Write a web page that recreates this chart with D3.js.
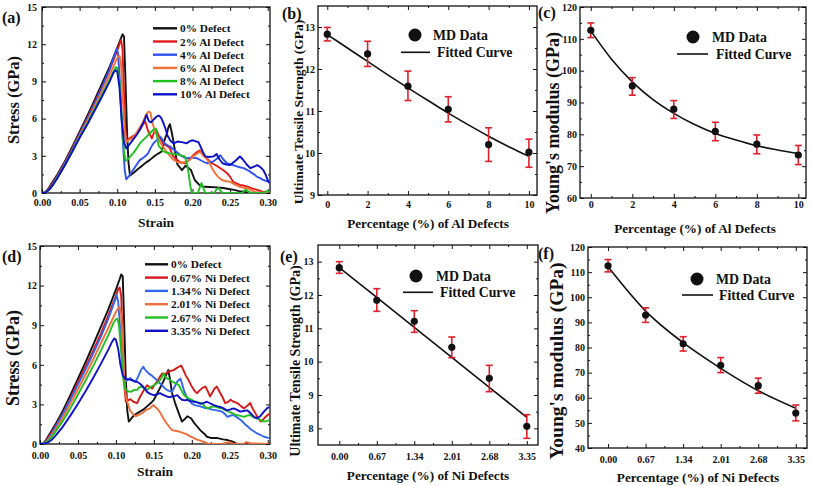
<!DOCTYPE html>
<html><head><meta charset="utf-8">
<script src="https://cdn.jsdelivr.net/npm/d3@7"></script>
<style>
body{margin:0;background:#fff}
svg{display:block}
text{font-family:"Liberation Serif","Times New Roman",serif;font-weight:bold;fill:#111}
.tk text{font-size:10px}
</style>
</head><body><svg id="c" width="813" height="486"></svg>
<script>
// ---------- Stress-strain, Al defects (strain, stress GPa) ----------
const al0=[[0,0],[0.004,0.05],[0.008,0.3],[0.012,0.7],[0.02,1.45],[0.03,2.5],[0.04,3.7],[0.05,4.95],[0.06,6.2],[0.07,7.5],[0.08,8.85],[0.09,10.2],[0.1,11.7],[0.105,12.5],[0.107,12.8],[0.109,12.6],[0.111,9],[0.113,5],[0.115,2.4],[0.117,1.4],[0.121,1.6],[0.126,1.85],[0.133,2.2],[0.138,2.45],[0.143,2.65],[0.15,3.0],[0.155,3.2],[0.159,3.35],[0.163,4.3],[0.166,4.8],[0.168,5.3],[0.17,5.55],[0.172,5.0],[0.174,4.4],[0.177,3.3],[0.18,2.3],[0.186,1.85],[0.191,2.2],[0.195,2.0],[0.198,1.85],[0.203,1.05],[0.21,0.6],[0.216,0.5],[0.223,0.48],[0.232,0.45],[0.241,0.4],[0.25,0.3],[0.255,0.25],[0.262,0.15],[0.268,0.1],[0.275,0],[0.302,0]];
const al2=[[0,0],[0.004,0.03],[0.008,0.25],[0.012,0.6],[0.02,1.35],[0.03,2.4],[0.04,3.55],[0.05,4.8],[0.06,6.0],[0.07,7.3],[0.08,8.6],[0.09,9.95],[0.1,11.5],[0.104,12.2],[0.105,12.35],[0.107,11.6],[0.109,8],[0.111,5],[0.112,4.2],[0.116,4.4],[0.121,4.6],[0.126,4.8],[0.13,5.1],[0.134,5.5],[0.137,5.8],[0.141,5.0],[0.146,4.4],[0.149,4.9],[0.152,5.1],[0.156,4.5],[0.161,4.0],[0.166,3.8],[0.17,3.6],[0.174,3.0],[0.177,2.8],[0.183,2.5],[0.19,2.4],[0.196,2.7],[0.201,3.05],[0.206,3.3],[0.21,3.45],[0.214,3.1],[0.217,2.9],[0.222,2.6],[0.226,2.4],[0.232,2.2],[0.237,2.0],[0.242,1.8],[0.246,1.6],[0.25,1.3],[0.254,0.9],[0.259,0.75],[0.263,0.65],[0.268,0.6],[0.274,0.5],[0.28,0.35],[0.286,0.25],[0.292,0.12],[0.297,0.05],[0.302,0.1]];
const al4=[[0,0],[0.005,0.05],[0.01,0.35],[0.015,0.8],[0.02,1.3],[0.03,2.35],[0.04,3.5],[0.05,4.75],[0.06,5.95],[0.07,7.2],[0.08,8.55],[0.09,10.0],[0.095,10.9],[0.099,11.6],[0.101,11.3],[0.104,8.5],[0.107,4.5],[0.11,1.8],[0.112,1.1],[0.116,1.4],[0.121,1.85],[0.126,2.3],[0.13,2.65],[0.136,2.9],[0.141,3.2],[0.145,3.7],[0.148,4.0],[0.153,4.3],[0.157,4.55],[0.16,4.3],[0.163,4.0],[0.167,3.85],[0.17,3.75],[0.175,3.5],[0.179,3.3],[0.185,3.0],[0.192,2.8],[0.199,2.85],[0.206,2.8],[0.212,2.6],[0.219,2.4],[0.224,2.5],[0.228,2.55],[0.233,2.8],[0.237,3.05],[0.241,2.7],[0.246,2.4],[0.254,2.25],[0.261,2.1],[0.268,2.0],[0.273,1.85],[0.277,1.7],[0.282,1.5],[0.286,1.3],[0.29,1.2],[0.294,1.05],[0.302,0.9]];
const al6=[[0,0],[0.005,0.05],[0.01,0.3],[0.015,0.7],[0.02,1.2],[0.03,2.25],[0.04,3.4],[0.05,4.6],[0.06,5.8],[0.07,7.0],[0.08,8.25],[0.09,9.55],[0.097,10.5],[0.101,11.0],[0.103,11.05],[0.105,10.4],[0.108,7],[0.11,4.8],[0.112,4.1],[0.116,4.3],[0.12,4.4],[0.125,4.8],[0.13,5.3],[0.134,5.7],[0.138,6.3],[0.141,6.55],[0.144,6.5],[0.147,5.6],[0.15,5.0],[0.153,4.6],[0.157,4.1],[0.161,3.7],[0.166,3.3],[0.17,3.0],[0.174,2.7],[0.18,2.5],[0.186,2.4],[0.192,2.55],[0.197,2.7],[0.202,3.0],[0.207,3.2],[0.21,3.35],[0.214,3.0],[0.218,2.8],[0.222,2.5],[0.226,2.0],[0.23,1.6],[0.234,1.3],[0.239,1.05],[0.245,0.95],[0.25,0.9],[0.256,0.7],[0.263,0.5],[0.27,0.4],[0.275,0.35],[0.28,0.15],[0.286,0.05],[0.302,0.05]];
const al8=[[0,0],[0.005,0.05],[0.01,0.3],[0.015,0.7],[0.02,1.2],[0.03,2.2],[0.04,3.35],[0.05,4.5],[0.06,5.6],[0.07,6.8],[0.08,7.95],[0.09,9.15],[0.095,9.8],[0.098,10.15],[0.1,10.1],[0.103,9.0],[0.106,6],[0.109,3.4],[0.111,2.6],[0.114,2.7],[0.118,3.0],[0.121,3.2],[0.126,3.6],[0.13,4.0],[0.135,4.3],[0.139,4.55],[0.143,4.8],[0.148,5.1],[0.151,5.2],[0.153,4.6],[0.155,3.8],[0.158,3.6],[0.161,3.35],[0.166,3.25],[0.17,3.2],[0.176,3.15],[0.183,3.05],[0.19,2.95],[0.193,2.3],[0.195,1.5],[0.197,0.6],[0.199,0],[0.207,0],[0.21,0.5],[0.212,0.8],[0.215,0.3],[0.217,0],[0.229,0],[0.232,0.3],[0.235,0.4],[0.238,0.1],[0.241,0],[0.266,0],[0.27,0.25],[0.273,0.2],[0.276,0],[0.295,0],[0.298,0.15],[0.302,0.1]];
const al10=[[0,0],[0.005,0.05],[0.01,0.3],[0.015,0.7],[0.02,1.15],[0.03,2.2],[0.04,3.3],[0.05,4.45],[0.06,5.5],[0.07,6.65],[0.08,7.8],[0.09,9.0],[0.095,9.7],[0.098,9.9],[0.1,9.8],[0.103,8.5],[0.106,5.8],[0.109,4.1],[0.112,3.6],[0.116,3.9],[0.121,4.3],[0.126,4.7],[0.13,5.1],[0.134,5.6],[0.137,6.0],[0.139,6.3],[0.142,5.8],[0.145,5.7],[0.148,5.9],[0.152,6.15],[0.155,6.25],[0.158,6.1],[0.161,5.7],[0.164,5.2],[0.167,4.6],[0.171,4.2],[0.175,4.0],[0.18,4.15],[0.186,4.1],[0.192,4.0],[0.197,4.2],[0.201,4.25],[0.205,4.15],[0.208,4.1],[0.211,3.7],[0.214,3.3],[0.217,2.95],[0.222,2.9],[0.228,2.95],[0.232,3.15],[0.236,2.7],[0.24,2.4],[0.245,2.3],[0.25,2.25],[0.255,2.5],[0.259,2.7],[0.263,2.95],[0.267,2.7],[0.272,2.3],[0.277,2.0],[0.281,2.1],[0.286,2.25],[0.29,2.1],[0.294,1.85],[0.297,1.5],[0.3,1.05],[0.302,0.8]];
const alNames=["0% Defect","2% Al Defect","4% Al Defect","6% Al Defect","8% Al Defect","10% Al Defect"];
const alColors=["#111111","#e21a1a","#3050f0","#f07238","#1ec21e","#0a10c8"];

// ---------- Stress-strain, Ni defects ----------
const ni0=[[0,0],[0.004,0.05],[0.008,0.3],[0.012,0.7],[0.02,1.45],[0.03,2.5],[0.04,3.7],[0.05,4.95],[0.06,6.2],[0.07,7.5],[0.08,8.85],[0.09,10.2],[0.1,11.7],[0.105,12.5],[0.107,12.85],[0.109,12.7],[0.111,9],[0.113,5],[0.115,2.5],[0.117,1.7],[0.12,1.9],[0.124,2.2],[0.13,2.4],[0.136,2.6],[0.141,2.85],[0.146,3.1],[0.15,3.35],[0.155,3.9],[0.159,4.35],[0.163,4.8],[0.166,5.2],[0.169,5.6],[0.171,5.0],[0.174,3.85],[0.178,3.1],[0.183,2.3],[0.187,1.7],[0.191,1.9],[0.194,2.1],[0.199,1.95],[0.203,1.6],[0.206,1.4],[0.211,1.05],[0.216,0.8],[0.22,0.55],[0.226,0.45],[0.234,0.45],[0.241,0.35],[0.247,0.3],[0.253,0.2],[0.258,0.05],[0.262,0],[0.302,0]];
const ni067=[[0,0],[0.004,0.03],[0.008,0.25],[0.012,0.6],[0.02,1.3],[0.03,2.3],[0.04,3.45],[0.05,4.7],[0.06,5.85],[0.07,7.05],[0.08,8.35],[0.09,9.75],[0.1,11.2],[0.103,11.75],[0.105,11.85],[0.107,11.2],[0.109,7.5],[0.111,4.5],[0.113,3.2],[0.116,3.3],[0.119,3.4],[0.123,3.2],[0.128,3.1],[0.132,3.6],[0.137,4.1],[0.141,4.45],[0.145,4.3],[0.148,4.2],[0.151,4.5],[0.154,4.7],[0.158,5.1],[0.161,5.35],[0.165,5.3],[0.17,5.5],[0.176,5.6],[0.18,5.75],[0.183,5.85],[0.186,5.95],[0.189,5.6],[0.192,5.2],[0.196,4.8],[0.2,4.35],[0.204,4.0],[0.207,3.85],[0.211,4.1],[0.214,4.25],[0.218,4.35],[0.221,4.0],[0.224,3.6],[0.227,3.9],[0.23,4.2],[0.233,4.35],[0.237,3.9],[0.24,3.6],[0.244,3.1],[0.248,3.2],[0.251,3.35],[0.255,3.2],[0.26,3.1],[0.265,2.85],[0.269,2.7],[0.273,2.9],[0.277,3.1],[0.28,2.7],[0.284,2.3],[0.288,1.9],[0.291,1.7],[0.294,1.85],[0.297,2.05],[0.3,2.2],[0.302,2.3]];
const ni134=[[0,0],[0.005,0.05],[0.01,0.3],[0.015,0.75],[0.02,1.25],[0.03,2.25],[0.04,3.35],[0.05,4.5],[0.06,5.65],[0.07,6.85],[0.08,8.1],[0.09,9.5],[0.097,10.6],[0.1,11.1],[0.101,11.25],[0.103,10.8],[0.106,8.5],[0.109,5.5],[0.112,4.7],[0.116,4.9],[0.119,5.0],[0.122,4.8],[0.126,4.7],[0.13,5.2],[0.133,5.6],[0.136,5.85],[0.139,5.6],[0.143,5.35],[0.147,5.2],[0.152,4.95],[0.156,4.7],[0.161,4.45],[0.164,4.25],[0.167,4.1],[0.171,4.0],[0.174,3.95],[0.177,4.3],[0.181,4.75],[0.185,4.95],[0.187,4.6],[0.19,4.0],[0.193,3.6],[0.196,3.35],[0.2,3.05],[0.204,2.95],[0.211,2.85],[0.216,2.75],[0.221,2.7],[0.227,2.6],[0.233,2.55],[0.24,2.45],[0.244,2.25],[0.247,2.05],[0.251,2.15],[0.255,2.2],[0.26,2.0],[0.265,1.8],[0.27,1.5],[0.274,1.3],[0.278,1.1],[0.282,0.95],[0.286,0.8],[0.29,0.7],[0.295,0.55],[0.302,0.45]];
const ni201=[[0,0],[0.005,0.05],[0.01,0.25],[0.015,0.6],[0.02,1.05],[0.03,2.0],[0.04,3.05],[0.05,4.15],[0.06,5.25],[0.07,6.4],[0.08,7.6],[0.09,8.8],[0.1,10.0],[0.103,10.3],[0.105,10.35],[0.107,9.8],[0.109,7.5],[0.111,5],[0.113,3.6],[0.116,3.0],[0.119,2.5],[0.122,2.3],[0.126,2.1],[0.13,2.2],[0.135,2.35],[0.14,2.6],[0.145,2.7],[0.149,2.95],[0.152,2.8],[0.155,2.65],[0.158,2.4],[0.161,2.1],[0.164,1.8],[0.167,1.55],[0.171,1.25],[0.174,1.05],[0.178,1.0],[0.183,0.95],[0.188,0.85],[0.193,0.75],[0.197,0.6],[0.201,0.5],[0.206,0.35],[0.211,0.25],[0.216,0.15],[0.221,0.05],[0.225,0],[0.24,0],[0.245,0.1],[0.25,0.15],[0.254,0],[0.268,0],[0.272,0.15],[0.276,0.05],[0.302,0]];
const ni267=[[0,0],[0.005,0.05],[0.01,0.2],[0.015,0.5],[0.02,0.9],[0.03,1.75],[0.04,2.7],[0.05,3.75],[0.06,4.8],[0.07,5.9],[0.08,7.05],[0.09,8.25],[0.097,9.2],[0.1,9.45],[0.102,9.5],[0.104,9.0],[0.107,7],[0.11,4.8],[0.112,4.2],[0.116,4.0],[0.12,3.95],[0.124,4.1],[0.128,4.1],[0.131,4.3],[0.134,4.35],[0.138,4.2],[0.141,4.1],[0.145,4.3],[0.15,4.45],[0.154,4.6],[0.157,4.75],[0.16,5.0],[0.163,5.35],[0.165,5.1],[0.168,4.95],[0.171,4.85],[0.175,4.7],[0.179,4.6],[0.183,4.45],[0.186,4.1],[0.19,3.7],[0.194,3.5],[0.198,3.4],[0.203,3.25],[0.208,3.15],[0.213,3.1],[0.217,2.85],[0.22,2.7],[0.225,2.8],[0.229,2.85],[0.235,2.75],[0.24,2.7],[0.245,2.55],[0.249,2.45],[0.254,2.3],[0.258,2.2],[0.263,2.15],[0.269,2.05],[0.273,2.15],[0.277,2.2],[0.282,2.0],[0.286,1.95],[0.291,1.8],[0.295,1.7],[0.299,1.75],[0.302,1.8]];
const ni335=[[0,0],[0.005,0.02],[0.01,0.1],[0.015,0.3],[0.02,0.6],[0.03,1.3],[0.04,2.15],[0.05,3.05],[0.06,4.0],[0.07,5.0],[0.08,6.05],[0.09,7.15],[0.095,7.75],[0.098,8.0],[0.1,7.9],[0.103,7.2],[0.106,6.0],[0.109,5.2],[0.112,4.95],[0.116,4.9],[0.121,4.85],[0.125,4.75],[0.128,4.7],[0.131,4.6],[0.134,4.45],[0.138,4.2],[0.141,3.95],[0.145,3.8],[0.15,3.7],[0.154,3.75],[0.158,3.85],[0.163,3.7],[0.167,3.6],[0.171,3.55],[0.174,3.6],[0.178,3.65],[0.181,3.7],[0.184,3.5],[0.187,3.35],[0.191,3.3],[0.194,3.35],[0.198,3.25],[0.203,3.2],[0.207,3.15],[0.211,3.05],[0.215,3.1],[0.22,3.2],[0.225,3.05],[0.229,2.95],[0.234,2.85],[0.238,2.8],[0.242,2.7],[0.246,2.55],[0.25,2.6],[0.255,2.7],[0.259,2.6],[0.264,2.45],[0.268,2.5],[0.273,2.55],[0.277,2.35],[0.282,2.05],[0.286,1.95],[0.29,2.1],[0.295,2.45],[0.299,2.7],[0.302,2.8]];
const niNames=["0% Defect","0.67% Ni Defect","1.34% Ni Defect","2.01% Ni Defect","2.67% Ni Defect","3.35% Ni Defect"];
const niColors=["#111111","#d81818","#3366ee","#ef6f3a","#20c020","#1010c8"];

// ---------- UTS / Young's modulus vs Al % ----------
const alPct=[0,2,4,6,8,10];
const alUTS=[12.83,12.36,11.59,11.04,10.2,10.02];
const alUTSLo=[12.67,12.06,11.25,10.74,9.8,9.66];
const alUTSHi=[12.99,12.66,11.95,11.34,10.6,10.33];
const alFitX=[0,1,2,3,4,5,6,7,8,9,10];
const alUTSFit=[12.82,12.5,12.18,11.86,11.55,11.25,10.95,10.67,10.4,10.15,9.92];
const alYM=[112.7,95.2,87.9,80.9,76.9,73.5];
const alYMLo=[110.4,92.3,85.0,78.0,73.9,70.5];
const alYMHi=[115.0,97.8,90.6,83.8,79.8,76.5];
const alYMFit=[112.5,103.6,96.5,90.9,86.6,83.1,80.3,78.2,76.4,75.1,74.0];

// ---------- UTS / Young's modulus vs Ni % ----------
const niPct=[0,0.67,1.34,2.01,2.68,3.35];
const niPctLabels=["0.00","0.67","1.34","2.01","2.68","3.35"];
const niUTS=[12.82,11.84,11.21,10.43,9.5,8.06];
const niUTSLo=[12.65,11.51,10.88,10.12,9.1,7.7];
const niUTSHi=[13.0,12.19,11.53,10.74,9.89,8.41];
const niUTSFit=[12.82,11.93,11.03,10.13,9.23,8.33];
const niYM=[112.5,92.9,81.5,72.9,64.8,53.9];
const niYMLo=[110.1,90.0,78.6,70.0,61.8,50.8];
const niYMHi=[115.0,95.8,84.3,76.0,67.8,57.1];
const niYMFit=[112.1,94.5,81.9,71.7,62.8,55.8];

const svg=d3.select("#c");
let clipId=0;
function panel(o){
  const x=d3.scaleLinear().domain(o.xd).range([o.L,o.R]);
  const y=d3.scaleLinear().domain(o.yd).range([o.B,o.T]);
  const g=svg.append("g");
  const id="clip"+(clipId++);
  g.append("clipPath").attr("id",id).append("rect").attr("x",o.L).attr("y",o.T).attr("width",o.R-o.L).attr("height",o.B-o.T);
  const ax=(fn,scale,vals,size,fmt,pad,tr)=>{
    const a=g.append("g").attr("class","tk").attr("transform",tr)
      .call(fn(scale).tickValues(vals).tickSizeInner(size).tickSizeOuter(0).tickPadding(pad).tickFormat(fmt));
    a.select(".domain").remove();
    a.attr("font-family",null).attr("font-size",null);
    a.selectAll("line").attr("stroke","#111").attr("stroke-width",1);
  };
  const none=()=>"";
  ax(d3.axisBottom,x,o.xMajor,-4,o.xFmt,o.xPad,`translate(0,${o.B})`);
  ax(d3.axisBottom,x,o.xMinor,-2,none,0,`translate(0,${o.B})`);
  ax(d3.axisTop,x,o.xMajor,-4,none,0,`translate(0,${o.T})`);
  ax(d3.axisTop,x,o.xMinor,-2,none,0,`translate(0,${o.T})`);
  ax(d3.axisLeft,y,o.yMajor,-4,o.yFmt,o.yPad,`translate(${o.L},0)`);
  ax(d3.axisLeft,y,o.yMinor,-2,none,0,`translate(${o.L},0)`);
  ax(d3.axisRight,y,o.yMajor,-4,none,0,`translate(${o.R},0)`);
  ax(d3.axisRight,y,o.yMinor,-2,none,0,`translate(${o.R},0)`);
  g.append("rect").attr("x",o.L).attr("y",o.T).attr("width",o.R-o.L).attr("height",o.B-o.T)
    .attr("fill","none").attr("stroke","#111").attr("stroke-width",1.3);
  const plot=g.append("g").attr("clip-path",`url(#${id})`);
  return {g,plot,x,y};
}
function txt(x,y,s,size,anchor,rot,len){
  const t=svg.append("text").attr("x",x).attr("y",y).attr("font-size",size).attr("text-anchor",anchor||"start").text(s);
  if(rot) t.attr("transform",`rotate(${rot},${x},${y})`);
  if(len) t.attr("textLength",len).attr("lengthAdjust","spacingAndGlyphs");
  return t;
}
const range=(a,b,s)=>d3.range(a,b+s/2,s).map(v=>+v.toFixed(4));

// ===== stress-strain panels =====
function ssPanel(o,curves,colors,names,leg){
  const p=panel(Object.assign({xd:[0,0.303],yd:[0,15],
    xMajor:range(0,0.3,0.05),xMinor:range(0.025,0.275,0.05),
    yMajor:range(0,15,3),yMinor:range(1.5,13.5,3),
    xFmt:d3.format(".2f"),yFmt:d3.format("d")},o));
  const line=d3.line().x(d=>p.x(d[0])).y(d=>p.y(d[1]));
  curves.forEach((c,i)=>p.plot.append("path").attr("d",line(c)).attr("fill","none")
    .attr("stroke",colors[i]).attr("stroke-width",1.9).attr("stroke-linejoin","round"));
  names.forEach((n,i)=>{
    const yy=leg.y0+i*leg.dy;
    svg.append("line").attr("x1",leg.x1).attr("x2",leg.x2).attr("y1",yy).attr("y2",yy)
      .attr("stroke",colors[i]).attr("stroke-width",2.4);
    txt(leg.tx,yy+4,n,11.3);
  });
  return p;
}
ssPanel({L:42,R:270,T:7,B:193,xPad:6,yPad:5},[al0,al2,al4,al6,al8,al10],alColors,alNames,
  {x1:153,x2:177,tx:180,y0:28.3,dy:13.2});
ssPanel({L:40,R:270,T:246,B:444,xPad:7.4,yPad:3},[ni0,ni067,ni134,ni201,ni267,ni335],niColors,niNames,
  {x1:145,x2:168,tx:171,y0:264.3,dy:13.3});

// ===== property panels =====
function propPanel(o,xs,vals,lo,hi,fitX,fit,leg){
  const p=panel(o);
  const line=d3.line().x((d,i)=>p.x(fitX[i])).y(d=>p.y(d)).curve(d3.curveMonotoneX);
  p.plot.append("path").attr("d",line(fit)).attr("fill","none").attr("stroke","#111").attr("stroke-width",1.6);
  xs.forEach((xv,i)=>{
    const cx=p.x(xv);
    const gg=p.g.append("g").attr("stroke","#e0202a").attr("stroke-width",1.6);
    gg.append("line").attr("x1",cx).attr("x2",cx).attr("y1",p.y(lo[i])).attr("y2",p.y(hi[i]));
    gg.append("line").attr("x1",cx-3.5).attr("x2",cx+3.5).attr("y1",p.y(lo[i])).attr("y2",p.y(lo[i]));
    gg.append("line").attr("x1",cx-3.5).attr("x2",cx+3.5).attr("y1",p.y(hi[i])).attr("y2",p.y(hi[i]));
    p.g.append("circle").attr("cx",cx).attr("cy",p.y(vals[i])).attr("r",3.6).attr("fill","#111");
  });
  svg.append("circle").attr("cx",leg.dx).attr("cy",leg.dy).attr("r",6.5).attr("fill","#111");
  txt(leg.tx1,leg.dy+5,"MD Data",13.8);
  svg.append("line").attr("x1",leg.lx1).attr("x2",leg.lx2).attr("y1",leg.ly).attr("y2",leg.ly).attr("stroke","#111").attr("stroke-width",1.6);
  txt(leg.tx2,leg.ly+5,"Fitted Curve",13.8);
}
propPanel({L:318,R:537,T:6,B:195,xd:[-0.46,10.4],yd:[9,13.5],xMajor:range(0,10,2),xMinor:range(1,9,2),
  yMajor:range(9,13,1),yMinor:range(9.5,12.5,1),xFmt:d3.format("d"),yFmt:d3.format("d"),xPad:5.5,yPad:3},
  alPct,alUTS,alUTSLo,alUTSHi,alFitX,alUTSFit,{dx:415,dy:35,tx1:433,lx1:401,lx2:430,ly:52.3,tx2:437});
propPanel({L:580,R:806,T:7,B:198,xd:[-0.52,10.37],yd:[60,120],xMajor:range(0,10,2),xMinor:range(1,9,2),
  yMajor:range(60,120,10),yMinor:range(65,115,10),xFmt:d3.format("d"),yFmt:d3.format("d"),xPad:2.5,yPad:3},
  alPct,alYM,alYMLo,alYMHi,alFitX,alYMFit,{dx:693,dy:37,tx1:712,lx1:677,lx2:708,ly:54,tx2:716});
propPanel({L:318,R:538,T:245,B:445,xd:[-0.38,3.55],yd:[7.5,13.5],xMajor:niPct,xMinor:[0.335,1.005,1.675,2.345,3.015],
  yMajor:range(8,13,1),yMinor:range(8.5,13,1),xFmt:(d,i)=>niPctLabels[i],yFmt:d3.format("d"),xPad:7.4,yPad:4.4},
  niPct,niUTS,niUTSLo,niUTSHi,niPct,niUTSFit,{dx:416,dy:276,tx1:436,lx1:403,lx2:433,ly:292.3,tx2:440});
propPanel({L:588,R:807,T:247,B:448,xd:[-0.358,3.55],yd:[40,120],xMajor:niPct,xMinor:[0.335,1.005,1.675,2.345,3.015],
  yMajor:range(40,120,10),yMinor:range(45,115,10),xFmt:(d,i)=>niPctLabels[i],yFmt:d3.format("d"),xPad:7.4,yPad:3},
  niPct,niYM,niYMLo,niYMHi,niPct,niYMFit,{dx:697,dy:279,tx1:716,lx1:682,lx2:713,ly:295,tx2:719});

// ===== titles =====
txt(156,227,"Strain",13.5,"middle");
txt(155,476,"Strain",13.5,"middle");
txt(428,228,"Percentage (%) of Al Defects",13.2,"middle");
txt(695,233,"Percentage (%) of Al Defects",13.2,"middle");
txt(428,480,"Percentage (%) of Ni Defects",13.2,"middle");
txt(698,482,"Percentage (%) of Ni Defects",13.2,"middle");
txt(19,100,"Stress (GPa)",16.5,"middle",-90);
txt(19,358,"Stress (GPa)",18,"middle",-90);
txt(303,112,"Ultimate Tensile Strength (GPa)",13.5,"middle",-90);
txt(300,361,"Ultimate Tensile Strength (GPa)",14,"middle",-90);
txt(559,123,"Young's modulus (GPa)",18,"middle",-90);
txt(563,361,"Young's modulus (GPa)",19.5,"middle",-90);
txt(2,23,"(a)",16);
txt(282,19,"(b)",16);
txt(538,18,"(c)",16);
txt(2,262,"(d)",16);
txt(280,262,"(e)",16);
txt(538,259,"(f)",16);
</script></body></html>
